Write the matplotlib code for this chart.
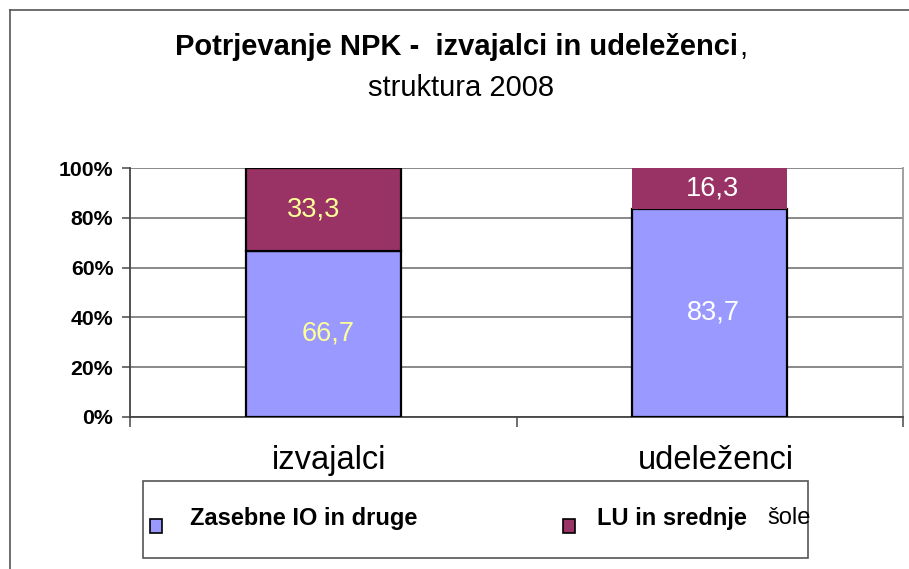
import matplotlib.pyplot as plt
from matplotlib.patches import Rectangle

plt.rcParams['font.family'] = ['Liberation Sans', 'DejaVu Sans']

categories = ["izvajalci", "udeleženci"]
zasebne = [66.7, 83.7]
lu_sole = [33.3, 16.3]
series_names = ["Zasebne IO in druge", "LU in srednje"]
yticks = [0, 20, 40, 60, 80, 100]

blue = "#9999ff"
maroon = "#993366"

W, H = 909, 569
fig = plt.figure(figsize=(W / 100, H / 100), dpi=100)

# outer chart frame (only left/top visible in reference)
fig.add_artist(plt.Line2D([10 / W, 10 / W], [0, 1 - 10 / H], color="#555555", lw=1.2))
fig.add_artist(plt.Line2D([10 / W, 1], [1 - 10 / H, 1 - 10 / H], color="#555555", lw=1.2))

fig.text(738 / W, 1 - 47 / H, "Potrjevanje NPK -  izvajalci in udeleženci", fontsize=21,
         fontweight="bold", ha="right", va="center")
fig.text(739 / W, 1 - 47 / H, ",", fontsize=21, ha="left", va="center")
fig.text(461 / W, 1 - 88 / H, "struktura 2008", fontsize=21, ha="center", va="center")

ax = fig.add_axes([130 / W, (H - 417) / H, 773 / W, 249 / H])
x = range(len(categories))
b1 = ax.bar(x, zasebne, width=0.4, color=blue, edgecolor="black", linewidth=1.6, zorder=3)
b2 = ax.bar(x, lu_sole, width=0.4, bottom=zasebne, color=maroon, edgecolor="black",
            linewidth=1.6, zorder=3)
b2[1].set_linewidth(0)

label_colors = ["#ffff99", "white"]
dx_low = [0.013, 0.01]
dx_up = [-0.026, 0.007]
for i in x:
    ax.text(i + dx_low[i], zasebne[i] / 2, f"{zasebne[i]:.1f}".replace(".", ","),
            color=label_colors[i], fontsize=19.5, ha="center", va="center", zorder=4)
    ax.text(i + dx_up[i], zasebne[i] + lu_sole[i] / 2, f"{lu_sole[i]:.1f}".replace(".", ","),
            color=label_colors[i], fontsize=19.5, ha="center", va="center", zorder=4)
    # category names, slightly right of bar centre as in the original
    ax.annotate(categories[i], xy=(i, 0), xycoords=("data", "axes fraction"),
                xytext=(4.3, -31), textcoords="offset points",
                ha="center", va="center", fontsize=23.5, annotation_clip=False)

ax.set_xlim(-0.5, 1.5)
ax.set_ylim(0, 100)
ax.set_yticks(yticks)
ax.set_yticklabels([f"{v}%" for v in yticks], fontsize=15.3, fontweight="bold")
ax.yaxis.grid(True, color="#808080", lw=1.3, zorder=0)
ax.set_xticks([-0.5, 0.5, 1.5])
ax.set_xticklabels([])
ax.tick_params(axis="x", length=7, width=1.2, color="#555555")
ax.tick_params(axis="y", length=6, width=1.2, color="#555555", pad=6)
for s in ["left", "bottom"]:
    ax.spines[s].set_color("#444444")
    ax.spines[s].set_linewidth(1.3)
ax.spines["top"].set_visible(False)
ax.spines["right"].set_color("#999999")
ax.spines["right"].set_linewidth(1.3)

# legend box
fig.add_artist(Rectangle((143 / W, 1 - 558 / H), (808 - 143) / W, 77 / H,
                         transform=fig.transFigure, facecolor="white",
                         edgecolor="#555555", lw=1.2))
for px, tx, col, name in [(150, 190, blue, series_names[0]), (563, 597, maroon, series_names[1])]:
    fig.add_artist(Rectangle((px / W, 1 - 533 / H), 12 / W, 14 / H,
                             transform=fig.transFigure, facecolor=col,
                             edgecolor="black", lw=1.2))
    fig.text(tx / W, 1 - 518 / H, name, fontsize=17, fontweight="bold",
             ha="left", va="center")
fig.text(767 / W, 1 - 518 / H, "šole", fontsize=17, ha="left", va="center")

fig.savefig("out.png", dpi=100)
